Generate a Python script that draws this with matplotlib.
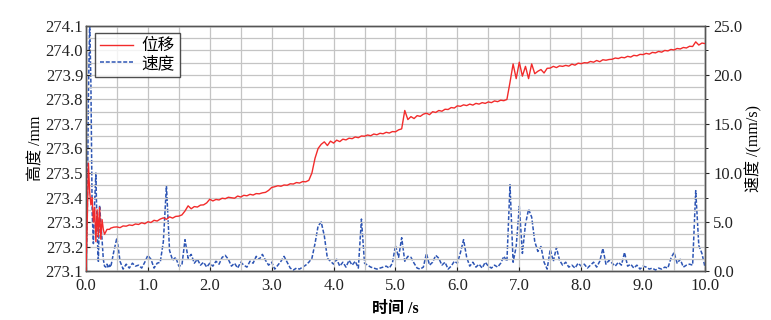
import numpy as np
import matplotlib

matplotlib.use("Agg")
import matplotlib.pyplot as plt
from matplotlib.ticker import MultipleLocator, FormatStrFormatter

plt.rcParams["font.family"] = ["Liberation Serif", "Noto Sans CJK SC"]

# time axis: dense sampling for the first 0.4 s, then every 0.05 s
t_early = np.round(np.arange(0.0, 0.39, 0.02), 2)
t_late = np.round(np.arange(0.40, 10.001, 0.05), 2)
time_s = np.concatenate([t_early, t_late])

# displacement / height (mm), left axis
disp_early = [273.10, 273.30, 273.54, 273.42, 273.37, 273.40, 273.30, 273.36, 273.22, 273.35,
              273.24, 273.36, 273.23, 273.31, 273.27, 273.25, 273.26, 273.27, 273.27, 273.27]
disp_late = [
    # 0.40 - 0.95
    273.275, 273.279, 273.280, 273.277, 273.284, 273.283, 273.288, 273.286, 273.292, 273.290,
    273.297, 273.293,
    # 1.00 - 1.95
    273.301, 273.298, 273.307, 273.304, 273.312, 273.317, 273.311, 273.321, 273.316, 273.323,
    273.324, 273.329, 273.345, 273.366, 273.354, 273.363, 273.361, 273.369, 273.370, 273.378,
    # 2.00 - 2.95
    273.393, 273.386, 273.392, 273.390, 273.397, 273.395, 273.401, 273.399, 273.397, 273.406,
    273.402, 273.409, 273.407, 273.413, 273.410, 273.416, 273.415, 273.419, 273.421, 273.429,
    # 3.00 - 3.95
    273.441, 273.444, 273.448, 273.446, 273.451, 273.450, 273.456, 273.455, 273.461, 273.459,
    273.465, 273.464, 273.470, 273.500, 273.560, 273.600, 273.617, 273.627, 273.612, 273.630,
    # 4.00 - 4.95
    273.622, 273.634, 273.628, 273.638, 273.635, 273.642, 273.640, 273.647, 273.644, 273.651,
    273.650, 273.655, 273.652, 273.659, 273.656, 273.662, 273.660, 273.666, 273.663, 273.669,
    # 5.00 - 5.95
    273.668, 273.676, 273.680, 273.755, 273.718, 273.730, 273.722, 273.734, 273.731, 273.740,
    273.744, 273.738, 273.750, 273.747, 273.755, 273.752, 273.760, 273.759, 273.767, 273.765,
    # 6.00 - 6.95
    273.774, 273.772, 273.778, 273.775, 273.781, 273.777, 273.784, 273.781, 273.787, 273.784,
    273.790, 273.787, 273.794, 273.791, 273.797, 273.795, 273.800, 273.870, 273.945, 273.885,
    # 7.00 - 7.95
    273.952, 273.895, 273.935, 273.885, 273.945, 273.905, 273.915, 273.922, 273.908, 273.927,
    273.928, 273.935, 273.930, 273.937, 273.935, 273.939, 273.936, 273.944, 273.940, 273.948,
    # 8.00 - 8.95
    273.946, 273.950, 273.949, 273.955, 273.952, 273.959, 273.954, 273.962, 273.960, 273.963,
    273.964, 273.969, 273.967, 273.972, 273.970, 273.976, 273.973, 273.980, 273.978, 273.984,
    # 9.00 - 10.00
    273.983, 273.988, 273.985, 273.992, 273.990, 273.996, 273.993, 274.000, 273.998, 274.004,
    274.002, 274.008, 274.006, 274.012, 274.010, 274.017, 274.016, 274.035, 274.022, 274.030,
    274.028,
]
displacement = np.array(disp_early + disp_late)

# speed (mm/s), right axis
speed_early = [0.0, 5.0, 18.0, 25.5, 19.0, 6.0, 2.8, 7.0, 10.0, 4.0,
               0.9, 6.7, 5.0, 3.2, 1.2, 0.5, 0.4, 0.7, 0.3, 0.6]
speed_late = [
    # 0.40 - 0.95
    0.4, 2.0, 3.4, 1.0, 0.2, 0.7, 0.3, 0.8, 0.5, 0.6, 0.3, 0.9,
    # 1.00 - 1.95
    1.6, 1.2, 0.3, 0.8, 0.9, 3.0, 8.7, 2.1, 1.1, 1.4, 0.5, 0.6, 3.2, 1.3, 1.7, 0.8, 1.2, 0.6, 0.9, 0.4,
    # 2.00 - 2.95
    0.8, 0.5, 1.0, 0.7, 1.4, 1.6, 1.2, 0.5, 0.8, 0.3, 0.9, 0.6, 0.4, 1.0, 0.8, 1.5, 1.2, 1.7, 1.1, 0.6,
    # 3.00 - 3.95
    0.9, 0.2, 0.6, 1.0, 1.5, 0.9, 0.3, 0.1, 0.3, 0.2, 0.4, 0.6, 0.9, 1.3, 2.8, 4.6, 5.0, 3.6, 1.3, 1.0,
    # 4.00 - 4.95
    0.7, 1.2, 0.5, 0.9, 0.4, 1.1, 0.6, 1.0, 0.3, 5.3, 0.8, 0.6, 0.4, 0.3, 0.2, 0.3, 0.4, 0.5, 0.3, 0.8,
    # 5.00 - 5.95
    2.6, 1.4, 3.4, 1.0, 1.5, 1.4, 0.8, 0.3, 0.2, 0.4, 1.8, 0.6, 0.9, 1.6, 1.3, 0.6, 0.9, 0.2, 0.5, 1.0,
    # 6.00 - 6.95
    0.8, 1.9, 3.2, 1.4, 0.5, 0.9, 0.4, 0.7, 0.3, 0.9, 0.5, 0.3, 0.6, 0.4, 0.8, 1.5, 1.0, 8.8, 0.9, 2.5,
    # 7.00 - 7.95
    6.6, 1.8, 4.8, 6.3, 5.5, 3.0, 2.0, 2.5, 0.9, 0.2, 2.2, 1.0, 2.4, 1.1, 0.6, 0.9, 0.4, 0.6, 0.3, 0.8,
    # 8.00 - 8.95
    0.5, 0.7, 0.3, 0.6, 0.9, 0.4, 1.0, 2.3, 0.7, 1.1, 0.8, 0.5, 0.9, 0.6, 1.9, 0.5, 0.7, 0.3, 0.6, 0.2,
    # 9.00 - 10.00
    0.5, 0.4, 0.2, 0.3, 0.1, 0.3, 0.2, 0.4, 0.3, 1.3, 1.9, 0.8, 1.2, 0.4, 0.6, 0.7, 0.6, 8.2, 2.6, 1.8,
    0.4,
]
speed = np.array(speed_early + speed_late)

RED = "#f22b2b"
BLUE = "#2d55b4"

fig = plt.figure(figsize=(7.71, 3.2), dpi=100)
ax = fig.add_axes([0.1115, 0.153, 0.8029, 0.766])
ax2 = ax.twinx()

ax.set_xlim(0, 10)
ax.set_ylim(273.1, 274.1)
ax2.set_ylim(0, 25)

ax.xaxis.set_major_locator(MultipleLocator(1.0))
ax.xaxis.set_minor_locator(MultipleLocator(0.5))
ax.yaxis.set_major_locator(MultipleLocator(0.1))
ax.yaxis.set_minor_locator(MultipleLocator(0.05))
ax2.yaxis.set_major_locator(MultipleLocator(5.0))
ax2.yaxis.set_minor_locator(MultipleLocator(2.5))

ax.grid(which="both", color="#c4c4c4", lw=0.9)
ax.set_axisbelow(True)

(l1,) = ax.plot(time_s, displacement, color=RED, lw=1.0, label="位移", zorder=3)
(l2,) = ax2.plot(time_s, speed, color=BLUE, lw=1.1, ls=(0, (2.6, 1.2)), label="速度", zorder=3)

ax.xaxis.set_major_formatter(FormatStrFormatter("%.1f"))
ax.yaxis.set_major_formatter(FormatStrFormatter("%.1f"))
ax2.yaxis.set_major_formatter(FormatStrFormatter("%.1f"))

ax.tick_params(axis="both", which="both", direction="in", labelsize=12, colors="#222222")
ax.tick_params(axis="x", which="major", pad=5)
ax.tick_params(axis="y", which="major", pad=2)
ax.tick_params(which="major", length=3)
ax.tick_params(which="minor", length=0)
ax2.tick_params(axis="y", which="major", direction="out", length=3, labelsize=12,
                colors="#222222", pad=3)
ax2.tick_params(axis="y", which="minor", direction="out", length=2)

for a in (ax, ax2):
    for s in a.spines.values():
        s.set_color("#555555")
        s.set_linewidth(1.0)

ax.set_xlabel("时间 /s", fontsize=11.5, fontweight="bold", labelpad=5)
ax.set_ylabel("高度 /mm", fontsize=11.5, labelpad=1)
ax2.set_ylabel("速度 /(mm/s)", fontsize=11.5, labelpad=2)

leg = ax.legend(handles=[l1, l2], loc="upper left", bbox_to_anchor=(0.006, 0.99),
                fontsize=12, frameon=True, fancybox=False, handlelength=2.0,
                borderpad=0.3, labelspacing=0.1, handletextpad=0.5, borderaxespad=0.3)
leg.get_frame().set_edgecolor("#222222")
leg.get_frame().set_linewidth(1.0)
leg.set_zorder(10)
ax.set_zorder(ax2.get_zorder() + 1)
ax.patch.set_visible(False)

fig.savefig("out.png", dpi=100)
